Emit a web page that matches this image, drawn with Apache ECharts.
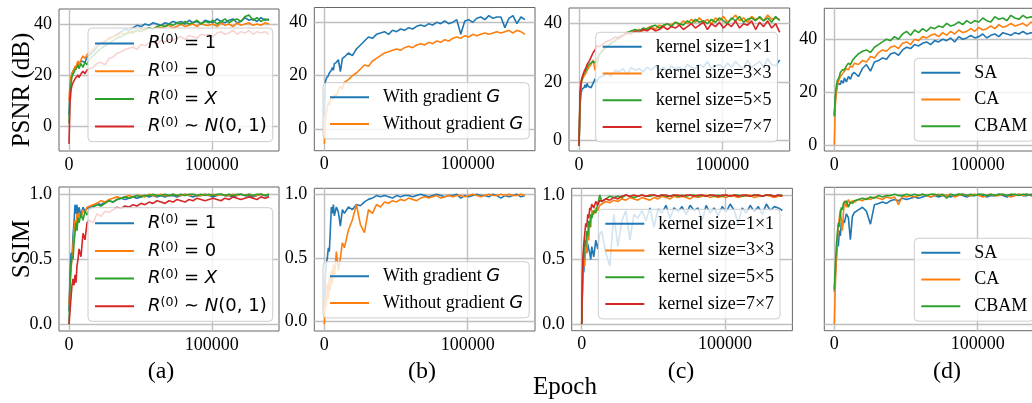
<!DOCTYPE html>
<html><head><meta charset="utf-8">
<script src="https://cdn.jsdelivr.net/npm/echarts@6/dist/echarts.min.js"></script>
<style>html,body{margin:0;padding:0;background:#fff}#c{width:1032px;height:403px}</style>
</head><body><div id="c"></div>
<script>
// ---------- DATA ----------
const epochs = [0,700,1400,2100,2800,3500,4200,4900,5600,6300,7000,8400,9800,11200,12600,
14000,16800,19600,22400,25200,28000,30800,33600,36400,39200,
42000,44800,47600,50400,53200,56000,58800,61600,64400,67200,
70000,72800,75600,78400,81200,84000,86800,89600,92400,95200,
98000,100800,103600,106400,109200,112000,114800,117600,120400,123200,
126000,128800,131600,134400,137200,140000];

const xTicks = [0, 100000];
const psnrTicks = [0, 20, 40];
const ssimTicks = [0, 0.5, 1.0];
const panelLabels = ['(a)', '(b)', '(c)', '(d)'];
const xTitle = 'Epoch';
const psnrTitle = 'PSNR (dB)';
const ssimTitle = 'SSIM';

const aNames = ['R(0) = 1', 'R(0) = 0', 'R(0) = X', 'R(0) ~ N(0, 1)'];
const bNames = ['With gradient G', 'Without gradient G'];
const cNames = ['kernel size=1×1', 'kernel size=3×3', 'kernel size=5×5', 'kernel size=7×7'];
const dNames = ['SA', 'CA', 'CBAM'];

// (a) PSNR
const aPsnrR1 = [4.5,14,18,20,21.5,22,23,22.5,24,25,24,25.5,26,25,27,
27.5,29,31,32.5,33,34.5,35,36,37,38,
37.5,38.5,39.5,39,40,39.5,40.5,40,39.5,40.5,
40,41,40.5,41,40,41.5,40.5,41,40,41.5,
41,40.5,42,41,40.5,41.5,42,40.5,41,42.5,
41.5,42,41,42.5,41.5,42];
const aPsnrR0 = [10,16,19.5,21,20.5,22,23.5,22,24.5,25.5,24,26,27.5,26.5,28,
28.5,30,31.5,32.5,33.5,34,35,35.5,36.5,36,
37,36.5,37.5,38,37.5,38.5,38,39,38.5,39,
39.5,38.5,39,40,39,39.5,40,39,40.5,39.5,
39.5,40,39,40.5,39.5,40,39,40.5,39.5,40,
40.5,39.5,40,39.5,40.5,40];
const aPsnrRX = [1,13,17,19.5,20,21,22,21.5,23,24,22.5,24.5,23,25,24,
26,27.5,29,30.5,31.5,32.5,33.5,34.5,35,36,
36.5,37,37.5,37,38,38.5,38,39,39.5,39,
40,39.5,40.5,40,41,40,40.5,41.5,40,41,
40.5,41.5,40,41,42,40.5,41.5,42,41,43,
43.5,41.5,42.5,41,42,41.5];
const aPsnrRN = [-7,9,14,16,17,17.5,18.5,18,19,20,19,20.5,21.5,20.5,22,
22.5,23,24.5,25,24,26.5,27,28.5,29,30,
30.5,31,30,32,31.5,32.5,33,32,33.5,33,
34,33.5,34.5,35,34,35.5,35,34.5,36,35.5,
36,35,36.5,37,36,36.5,37.5,36,37,36.5,
37.5,36,37,36.5,37,36];
// (a) SSIM
const aSsimR1 = [0.1,0.38,0.55,0.5,0.68,0.78,0.92,0.85,0.92,0.8,0.9,0.84,0.9,0.87,0.89,
0.9,0.91,0.93,0.92,0.94,0.95,0.94,0.96,0.97,0.96,
0.97,0.98,0.97,0.98,0.99,0.98,0.99,0.98,0.99,0.98,
0.99,0.99,0.98,0.99,1.0,0.99,0.98,0.99,0.99,1.0,
0.99,0.98,0.99,1.0,0.99,0.99,0.98,0.99,1.0,0.99,
0.99,0.98,0.99,1.0,0.99,0.99];
const aSsimR0 = [0.15,0.3,0.42,0.5,0.6,0.72,0.8,0.75,0.85,0.78,0.86,0.82,0.88,0.86,0.9,
0.89,0.92,0.93,0.95,0.94,0.96,0.97,0.98,0.97,0.98,
0.99,0.98,0.99,0.99,0.98,1.0,0.99,0.99,1.0,0.99,
0.99,1.0,0.99,0.99,1.0,0.99,1.0,0.99,0.99,1.0,
0.99,1.0,0.99,1.0,0.99,0.99,1.0,0.99,1.0,0.99,
1.0,0.99,0.99,1.0,0.99,1.0];
const aSsimRX = [0.0,0.3,0.45,0.52,0.5,0.62,0.7,0.78,0.72,0.82,0.78,0.85,0.8,0.87,0.84,
0.88,0.9,0.92,0.91,0.93,0.95,0.94,0.96,0.97,0.98,
0.97,0.98,0.99,0.98,0.99,0.99,1.0,0.99,0.99,1.0,
0.99,1.0,0.99,1.0,0.99,1.0,1.0,0.99,1.0,0.99,
1.0,0.99,1.0,1.0,0.99,1.0,0.99,1.0,1.0,0.99,
1.0,0.99,1.0,1.0,0.99,1.0];
const aSsimRN = [0.0,0.1,0.2,0.3,0.35,0.3,0.38,0.32,0.45,0.5,0.58,0.52,0.7,0.65,0.78,
0.8,0.78,0.85,0.83,0.87,0.86,0.88,0.9,0.89,0.91,
0.9,0.92,0.91,0.93,0.92,0.94,0.93,0.95,0.94,0.93,
0.95,0.94,0.96,0.95,0.94,0.96,0.95,0.97,0.96,0.95,
0.96,0.97,0.96,0.95,0.97,0.96,0.98,0.97,0.96,0.97,
0.98,0.97,0.96,0.98,0.97,0.98];
// (b) PSNR
const bPsnrWith = [5,17.5,19,18.5,20,21,20.5,22,23,22,24.5,25,26,21.5,26.5,
27,28.5,27.5,30,31.5,33,34.5,34,35.5,36,
36.5,35.5,37,36.5,37.5,37,38,37.5,38.5,39,
38.5,39.5,39,40,39.5,40.5,39.5,40,41,35.5,
40.5,41,40,41.5,42,41,42.5,41.5,42,42,
38,41.5,42.5,39.5,42,41];
const bPsnrWithout = [-5.5,3,6,8,10,9,11,10.5,12,11,13,12.5,14.5,16,15,
17.5,18.5,20,21,22.5,24,23.5,25.5,26.5,27.5,
28.5,29,29.5,30,29.5,30.5,31,30.5,31.5,32,
31.5,32.5,32,33,32.5,33.5,33,34,34.5,34,
35,34.5,35.5,35,35.5,36,35.5,36,36.5,36,
36.5,37,36,37,36.5,35.5];
// (b) SSIM
const bSsimWith = [0.1,0.35,0.45,0.5,0.58,0.55,0.72,0.9,0.85,0.92,0.83,0.9,0.86,0.75,0.88,
0.85,0.9,0.88,0.92,0.91,0.94,0.96,0.97,0.99,0.98,
0.99,0.98,0.97,0.99,0.98,0.99,0.99,0.98,0.99,1.0,
0.99,0.98,0.99,1.0,0.99,0.98,0.99,0.99,1.0,0.97,
0.99,0.98,0.99,1.0,0.99,0.99,0.98,1.0,0.99,0.97,
0.99,0.98,0.99,1.0,0.98,0.99];
const bSsimWithout = [-0.02,0.2,0.12,0.3,0.18,0.35,0.25,0.4,0.3,0.45,0.35,0.55,0.4,0.5,0.62,
0.58,0.72,0.8,0.92,0.76,0.7,0.88,0.85,0.92,0.9,
0.94,0.93,0.95,0.94,0.96,0.95,0.97,0.96,0.95,0.97,
0.98,0.97,0.98,0.99,0.97,0.98,0.99,0.98,0.99,0.99,
0.98,0.99,1.0,0.99,0.98,0.99,1.0,0.99,0.99,1.0,
0.99,1.0,0.99,0.99,1.0,0.99];
// (c) PSNR
const cPsnr1 = [-2,12,16,17.5,17,18,19,18,19.5,18.5,19,18,19.5,21,20,
21.5,22,23,22,24,23.5,24.5,22.5,25,24,
24.5,23.5,25,24,25.5,24,25,23.5,25.5,24.5,
25,24,26,25,24.5,26,25,27,24.5,25.5,
26,24.5,26.5,25,27,25.5,24.5,27.5,25,26,
27,25,28,26,25.5,27.5];
const cPsnr3 = [-2,14,19,20.5,21,22,21.5,23,24,23.5,25,26,27.5,24,26,
29,31,32.5,33,34.5,35,36,36.5,37.5,37,
38,37.5,38.5,39,38,39.5,39,40,39.5,40.5,
39.5,41,40,41.5,40.5,42,40.5,41.5,40,42,
41,42.5,40.5,41.5,43,41,42,40.5,42.5,41.5,
42,41,43,41.5,42,41.5];
const cPsnr5 = [-2,15,19.5,21,22,23,22.5,24,25,24.5,26,26.5,27,26.5,27.5,
29.5,31,32,33.5,34,35.5,36,37,37.5,38,
37.5,38.5,38,39,39.5,38.5,39.5,40,39,40.5,
40,39.5,41,40,41.5,40.5,41,40,41.5,40.5,
42,41,40,42,41,42.5,40.5,41.5,42,41,
42.5,41,42,40.5,42.5,41];
const cPsnr7 = [-2,16,20,21.5,22.5,23.5,24,25,26,26.5,27,28.5,30,31,32.5,
32,33,34,34.5,35.5,35,36,37,36.5,37.5,
37,38,37.5,38.5,37.5,38,39,38,39,38.5,
39.5,38,39,40,38.5,39.5,40.5,38,40,39,
40.5,38.5,40,39,41,38.5,40,39.5,41,38,
40.5,39,41,38.5,40,37];
// (c) SSIM
const cSsim1 = [0,0.45,0.4,0.55,0.6,0.55,0.62,0.58,0.55,0.5,0.6,0.52,0.65,0.58,0.7,
0.72,0.55,0.45,0.85,0.6,0.8,0.88,0.65,0.85,0.82,
0.88,0.8,0.9,0.75,0.89,0.86,0.92,0.82,0.9,0.87,
0.91,0.85,0.92,0.88,0.9,0.8,0.92,0.86,0.9,0.84,
0.91,0.87,0.93,0.88,0.78,0.9,0.86,0.92,0.87,0.91,
0.85,0.93,0.88,0.91,0.9,0.88];
const cSsim3 = [0,0.35,0.5,0.45,0.6,0.55,0.7,0.65,0.8,0.75,0.88,0.85,0.9,0.88,0.92,
0.93,0.95,0.94,0.96,0.95,0.97,0.96,0.98,0.97,0.96,
0.98,0.97,0.96,0.98,0.97,0.99,0.98,0.97,0.99,0.98,
0.99,0.98,0.97,0.99,0.98,0.99,1.0,0.98,0.99,0.98,
0.99,0.98,1.0,0.99,0.98,0.99,0.99,1.0,0.98,0.99,
0.99,1.0,0.99,0.98,0.99,0.99];
const cSsim5 = [0,0.4,0.55,0.65,0.6,0.72,0.68,0.8,0.75,0.85,0.82,0.88,0.86,0.93,1.0,
0.95,0.97,0.99,0.98,0.99,0.98,1.0,0.99,0.98,0.99,
1.0,0.99,0.99,1.0,0.99,1.0,0.99,0.99,1.0,0.99,
1.0,0.99,1.0,1.0,0.99,1.0,0.99,1.0,0.99,1.0,
0.99,1.0,0.99,1.0,1.0,0.99,1.0,0.99,1.0,1.0,
0.99,1.0,1.0,0.99,1.0,1.0];
const cSsim7 = [0,0.5,0.62,0.7,0.78,0.75,0.85,0.82,0.9,0.88,0.93,0.9,0.95,0.92,0.96,
0.95,0.97,0.96,0.98,0.97,0.99,1.0,0.99,1.0,0.99,
1.0,0.99,1.0,1.0,0.99,1.0,1.0,0.99,1.0,1.0,
0.99,1.0,1.0,0.99,1.0,1.0,0.99,1.0,1.0,0.99,
1.0,1.0,0.99,1.0,0.99,1.0,1.0,0.99,1.0,1.0,
0.99,1.0,1.0,0.99,1.0,0.99];
// (d) PSNR
const dPsnrSA = [11.5,18,21,22.5,23.5,24,23,24.5,25,23.5,25.5,24,26,25,27,
27.5,26,29,30.5,28,31.5,32,33,32.5,34.5,
35,34,36,37,36.5,38,37.5,38.5,39,38,
39.5,39,40,39.5,40.5,39,41,40,40.5,41.5,
40.5,41,42,40.5,41.5,42,41,42.5,42,41.5,
42.5,42,43,42,42.5,42];
const dPsnrCA = [0.3,15,20,22.5,24,25,26,25.5,27,26.5,28,29,28.5,30,29.5,
31,30.5,32,31.5,33.5,33,35,36,35.5,37,
37.5,36.5,38.5,39,38,40,39.5,41,40.5,41.5,
42,41,42.5,41.5,43,42,43.5,42.5,43,44,
43,44.5,43.5,44,45,44,45.5,44.5,45,46,
45,45.5,46,45,46.5,45.5];
const dPsnrCBAM = [11,19,22.5,24.5,25,26,27.5,27,28.5,29,28.5,30,31,30.5,32,
33,34.5,35.5,36,35,37,38,39,40,39.5,
41,40,42,43,41.5,43.5,42.5,44,43,44.5,
44,45,44.5,46,45,45.5,46.5,45.5,47,46,
47,46.5,48,47,46.5,48.5,47.5,48,47,49,
48,47.5,49,48,48.5,47.5];
// (d) SSIM
const dSsimSA = [0.25,0.38,0.5,0.62,0.6,0.72,0.68,0.78,0.75,0.8,0.78,0.85,0.82,0.65,0.83,
0.86,0.88,0.9,0.87,0.77,0.92,0.93,0.94,0.93,0.95,
0.96,0.95,0.97,0.96,0.97,0.98,0.97,0.98,0.99,0.98,
0.99,0.98,0.99,0.99,0.98,0.99,1.0,0.99,0.98,0.99,
0.99,1.0,0.99,0.98,0.99,0.99,1.0,0.99,0.98,0.99,
0.99,1.0,0.99,0.99,1.0,0.99];
const dSsimCA = [0.0,0.3,0.5,0.65,0.75,0.82,0.88,0.8,0.72,0.85,0.95,0.9,0.96,0.93,0.95,
0.94,0.96,0.95,0.97,0.96,0.98,0.97,0.96,0.98,0.97,
0.98,0.92,0.99,0.98,0.99,0.98,0.99,1.0,0.99,0.98,
0.99,1.0,0.99,0.99,1.0,0.98,0.99,1.0,0.99,0.99,
1.0,0.99,0.98,0.99,1.0,0.99,0.99,1.0,0.99,0.98,
0.99,1.0,0.99,1.0,0.99,0.99];
const dSsimCBAM = [0.27,0.45,0.6,0.7,0.78,0.75,0.85,0.9,0.88,0.93,0.92,0.95,0.9,0.94,0.93,
0.95,0.96,0.97,0.96,0.98,0.97,0.99,0.98,0.99,0.99,
1.0,0.99,0.99,1.0,0.99,1.0,0.99,1.0,0.99,1.0,
1.0,0.99,1.0,0.97,1.0,0.99,1.0,1.0,0.99,1.0,
0.99,1.0,1.0,0.99,1.0,0.99,1.0,1.0,0.99,1.0,
1.0,0.99,1.0,1.0,0.99,1.0];

// ---------- LAYOUT / STYLE ----------
const COLORS = ['#1f77b4', '#ff7f0e', '#2ca02c', '#d62728'];
const SERIF = 'Liberation Serif';
const SANS = 'DejaVu Sans';

const panels = [
  {names: aNames, series: [aPsnrR1, aPsnrR0, aPsnrRX, aPsnrRN]},
  {names: bNames, series: [bPsnrWith, bPsnrWithout]},
  {names: cNames, series: [cPsnr1, cPsnr3, cPsnr5, cPsnr7]},
  {names: dNames, series: [dPsnrSA, dPsnrCA, dPsnrCBAM]},
  {names: aNames, series: [aSsimR1, aSsimR0, aSsimRX, aSsimRN]},
  {names: bNames, series: [bSsimWith, bSsimWithout]},
  {names: cNames, series: [cSsim1, cSsim3, cSsim5, cSsim7]},
  {names: dNames, series: [dSsimSA, dSsimCA, dSsimCBAM]}
];
const gridBoxes = [
  {left: 59, top: 9, width: 220, height: 142},
  {left: 314.3, top: 7.5, width: 220.7, height: 143.2},
  {left: 569, top: 8, width: 220.7, height: 143},
  {left: 824.3, top: 8.3, width: 220.7, height: 142.7},
  {left: 59, top: 187, width: 220, height: 144},
  {left: 314.3, top: 188.3, width: 220.7, height: 142.7},
  {left: 571.7, top: 188.3, width: 220.7, height: 142.4},
  {left: 824.3, top: 187.3, width: 220.7, height: 143.4}
];
const yRanges = [[-9.8, 45.9], [-8.13, 45.55], [-3.78, 45.4], [-2.0, 51.65],
                 [-0.0515, 1.056], [-0.073, 1.047], [-0.052, 1.052], [-0.051, 1.054]];
const legendPos = [[88, 28], [323, 82.7], [595.7, 32.3], [914.3, 58.3],
                   [88, 207.7], [323, 261.7], [598.3, 209.3], [914.3, 238.3]];
const labelX = [161, 422, 681, 947];

const richText = {
  'R(0) = 1': '{i|R}{s|(0)}{n| = 1}',
  'R(0) = 0': '{i|R}{s|(0)}{n| = 0}',
  'R(0) = X': '{i|R}{s|(0)}{n| = }{i|X}',
  'R(0) ~ N(0, 1)': '{i|R}{s|(0)}{n| ∼ }{i|N}{n|(0, 1)}',
  'With gradient G': '{t|With gradient }{g|G}',
  'Without gradient G': '{t|Without gradient }{g|G}'
};
const rich = {
  i: {fontFamily: SANS, fontStyle: 'italic', fontSize: 18, lineHeight: 20, color: '#000'},
  n: {fontFamily: SANS, fontSize: 18, lineHeight: 20, color: '#000'},
  s: {fontFamily: SANS, fontSize: 12.6, lineHeight: 8, verticalAlign: 'top', color: '#000'},
  t: {fontFamily: SERIF, fontSize: 18, lineHeight: 20, color: '#000'},
  g: {fontFamily: SANS, fontStyle: 'italic', fontSize: 18, lineHeight: 20, color: '#000'}
};

const grids = [], xAxes = [], yAxes = [], series = [], legends = [];
panels.forEach((p, k) => {
  const isPsnr = k < 4;
  const ticks = isPsnr ? psnrTicks : ssimTicks;
  grids.push(Object.assign({show: true, borderColor: '#666', borderWidth: 1,
    backgroundColor: 'transparent', containLabel: false, outerBoundsMode: 'none'}, gridBoxes[k]));
  xAxes.push({
    gridIndex: k, type: 'value', min: -7000, max: 147000,
    axisLine: {show: false}, splitLine: {show: false},
    axisTick: {show: true, customValues: xTicks, length: 4, lineStyle: {color: '#333', width: 1}},
    axisLabel: {customValues: xTicks, fontFamily: SERIF, fontSize: 18, color: '#000', margin: 5,
      formatter: v => String(v)}
  });
  yAxes.push({
    gridIndex: k, type: 'value', min: yRanges[k][0], max: yRanges[k][1],
    axisLine: {show: false}, splitLine: {show: false},
    axisTick: {show: true, customValues: ticks, length: 4, lineStyle: {color: '#333', width: 1}},
    axisLabel: {show: k !== 7, customValues: ticks, fontFamily: SERIF, fontSize: 18, color: '#000', margin: 7,
      formatter: v => isPsnr ? String(v) : v.toFixed(1)}
  });
  // grid lines (kept beneath the data lines and the legends)
  series.push({
    type: 'line', name: '_grid' + k, xAxisIndex: k, yAxisIndex: k, data: [], z: 1, silent: true,
    markLine: {
      z: 1, silent: true, symbol: ['none', 'none'], animation: false, label: {show: false},
      lineStyle: {color: '#bfbfbf', width: 1.4, type: 'solid'},
      emphasis: {disabled: true},
      data: xTicks.map(v => ({xAxis: v})).concat(ticks.map(v => ({yAxis: v})))
    }
  });
  p.series.forEach((vals, j) => {
    series.push({
      type: 'line', name: p.names[j], xAxisIndex: k, yAxisIndex: k,
      showSymbol: false, symbol: 'none', silent: true, z: 2,
      color: COLORS[j],
      lineStyle: {width: 1.6, color: COLORS[j]},
      emphasis: {disabled: true},
      data: epochs.map((e, i) => [e, vals[i]])
    });
  });
  legends.push({
    show: true, orient: 'vertical', left: legendPos[k][0], top: legendPos[k][1], z: 10,
    data: p.names, selectedMode: false,
    icon: 'rect', itemWidth: 39, itemHeight: 2, itemGap: 8.7,
    padding: [5.5, 6, 6, 7],
    backgroundColor: 'rgba(255,255,255,0.8)', borderColor: '#cccccc', borderWidth: 1, borderRadius: 4,
    formatter: name => richText[name] || ('{t|' + name + '}'),
    textStyle: {fontFamily: SERIF, fontSize: 18, color: '#000', padding: [0, 0, 0, 9], rich: rich}
  });
});

const txt = (text, x, y, size, rot) => ({
  type: 'text', x: x, y: y, rotation: rot || 0, silent: true,
  style: {text: text, fontFamily: SERIF, fontSize: size, fill: '#000',
    align: 'center', verticalAlign: 'middle', textAlign: 'center', textVerticalAlign: 'middle'}
});
const graphics = panelLabels.map((t, i) => txt(t, labelX[i], 372, 24));
graphics.push(txt(xTitle, 565, 387, 25));
graphics.push(txt(psnrTitle, 22, 90, 25, Math.PI / 2));
graphics.push(txt(ssimTitle, 22, 249, 25, Math.PI / 2));

const chart = echarts.init(document.getElementById('c'), null, {renderer: 'canvas'});
chart.setOption({
  animation: false,
  backgroundColor: '#fff',
  grid: grids, xAxis: xAxes, yAxis: yAxes, series: series, legend: legends,
  graphic: graphics
});
</script>
</body></html>
